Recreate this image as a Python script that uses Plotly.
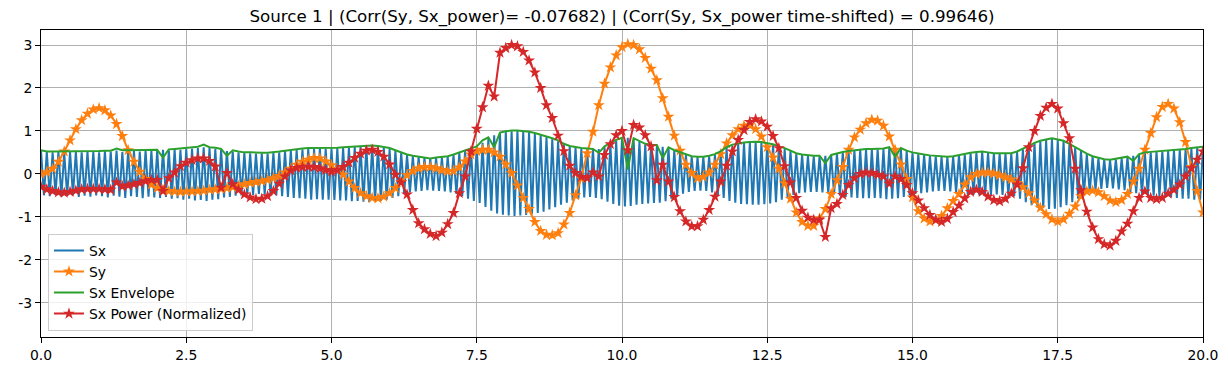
import numpy as np
import plotly.graph_objects as go

# ---------------- data ----------------
t_step = 0.1
t = np.round(np.arange(0, 201) * t_step, 2)  # 0.0 .. 20.0

sy = [
    0.00, 0.04, 0.12, 0.28, 0.52, 0.78, 1.04, 1.25, 1.40, 1.50,
    1.53, 1.48, 1.36, 1.16, 0.88, 0.55, 0.28, 0.05, -0.12, -0.25,
    -0.33, -0.37, -0.40, -0.41, -0.42, -0.41, -0.41, -0.40, -0.39, -0.37,
    -0.36, -0.35, -0.33, -0.31, -0.28, -0.24, -0.21, -0.19, -0.17, -0.14,
    -0.10, -0.05, 0.03, 0.12, 0.21, 0.28, 0.33, 0.37, 0.36, 0.29,
    0.20, 0.10, -0.02, -0.18, -0.33, -0.45, -0.52, -0.56, -0.57, -0.53,
    -0.45, -0.33, -0.19, -0.03, 0.07, 0.13, 0.16, 0.16, 0.13, 0.09,
    0.06, 0.07, 0.15, 0.29, 0.45, 0.53, 0.56, 0.56, 0.50, 0.40,
    0.22, 0.02, -0.27, -0.56, -0.82, -1.12, -1.33, -1.42, -1.43, -1.38,
    -1.18, -0.91, -0.50, -0.10, 0.48, 0.98, 1.60, 2.10, 2.48, 2.76,
    2.95, 3.02, 3.00, 2.90, 2.70, 2.45, 2.18, 1.76, 1.33, 0.89,
    0.54, 0.21, 0.02, -0.10, -0.07, 0.03, 0.21, 0.46, 0.71, 0.90,
    1.04, 1.12, 1.13, 1.04, 0.87, 0.62, 0.38, 0.12, -0.22, -0.58,
    -0.90, -1.12, -1.21, -1.21, -1.04, -0.82, -0.47, -0.15, 0.16, 0.56,
    0.85, 1.03, 1.18, 1.26, 1.24, 1.12, 0.87, 0.56, 0.22, -0.12,
    -0.55, -0.87, -1.04, -1.11, -1.08, -0.98, -0.80, -0.63, -0.47, -0.25,
    -0.08, 0.00, 0.03, 0.03, 0.01, -0.03, -0.08, -0.13, -0.21, -0.31,
    -0.45, -0.62, -0.79, -0.94, -1.06, -1.11, -1.06, -0.93, -0.76, -0.52,
    -0.41, -0.39, -0.43, -0.52, -0.62, -0.66, -0.61, -0.47, -0.18, 0.12,
    0.56, 0.95, 1.32, 1.56, 1.63, 1.52, 1.20, 0.74, 0.16, -0.40,
    -0.90,
]

sx_power = [
    -0.30, -0.36, -0.40, -0.43, -0.44, -0.42, -0.39, -0.36, -0.35, -0.35,
    -0.35, -0.36, -0.37, -0.20, -0.29, -0.27, -0.24, -0.21, -0.17, -0.14,
    -0.14, -0.40, -0.10, 0.03, 0.18, 0.26, 0.32, 0.36, 0.36, 0.30,
    0.17, -0.32, 0.02, -0.24, -0.37, -0.48, -0.55, -0.59, -0.58, -0.52,
    -0.40, -0.23, -0.06, 0.08, 0.14, 0.16, 0.17, 0.16, 0.13, 0.09,
    0.05, 0.09, 0.16, 0.26, 0.37, 0.47, 0.54, 0.56, 0.51, 0.40,
    0.22, -0.02, -0.20, -0.48, -0.84, -1.15, -1.29, -1.40, -1.45, -1.37,
    -1.17, -0.91, -0.45, -0.06, 0.52, 1.05, 1.55, 2.05, 1.80, 2.82,
    2.93, 3.00, 2.97, 2.84, 2.64, 2.36, 2.00, 1.60, 1.30, 0.89,
    0.53, 0.19, 0.02, -0.07, -0.10, 0.03, -0.06, 0.44, 0.69, 0.90,
    1.00, 0.55, 1.14, 1.08, 0.90, 0.64, -0.15, 0.21, -0.18, -0.54,
    -0.87, -1.11, -1.22, -1.22, -1.07, -0.84, -0.53, -0.18, 0.19, 0.52,
    0.79, 1.02, 1.21, 1.27, 1.22, 1.10, 0.88, 0.60, 0.18, -0.20,
    -0.56, -0.86, -1.02, -1.07, -1.07, -1.47, -0.80, -0.70, -0.49, -0.26,
    -0.10, 0.00, 0.03, 0.02, -0.02, -0.06, -0.23, -0.06, -0.12, -0.26,
    -0.45, -0.62, -0.80, -0.96, -1.07, -1.12, -1.05, -0.89, -0.74, -0.57,
    -0.42, -0.37, -0.42, -0.53, -0.61, -0.64, -0.58, -0.46, -0.25, 0.13,
    0.62, 1.00, 1.35, 1.54, 1.63, 1.52, 1.18, 0.83, 0.12, -0.38,
    -0.88, -1.25, -1.52, -1.64, -1.67, -1.56, -1.34, -1.16, -0.87, -0.56,
    -0.41, -0.56, -0.59, -0.56, -0.46, -0.37, -0.25, -0.06, 0.13, 0.33,
    0.52,
]

sx_envelope = [
    0.55, 0.52, 0.52, 0.52, 0.52, 0.52, 0.53, 0.53, 0.53, 0.53,
    0.53, 0.54, 0.54, 0.59, 0.55, 0.55, 0.55, 0.55, 0.56, 0.56,
    0.56, 0.38, 0.57, 0.58, 0.59, 0.60, 0.61, 0.63, 0.68, 0.62,
    0.61, 0.58, 0.42, 0.55, 0.52, 0.50, 0.50, 0.49, 0.49, 0.49,
    0.50, 0.52, 0.54, 0.56, 0.58, 0.59, 0.60, 0.60, 0.60, 0.60,
    0.60, 0.61, 0.62, 0.63, 0.64, 0.65, 0.66, 0.66, 0.65, 0.63,
    0.60, 0.55, 0.50, 0.45, 0.42, 0.40, 0.39, 0.36, 0.38, 0.39,
    0.41, 0.45, 0.50, 0.55, 0.60, 0.64, 0.78, 0.85, 0.62, 0.96,
    0.99, 1.01, 1.01, 1.00, 0.98, 0.95, 0.91, 0.88, 0.83, 0.78,
    0.70, 0.65, 0.62, 0.60, 0.59, 0.58, 0.49, 0.64, 0.72, 0.79,
    0.84, 0.10, 0.83, 0.76, 0.70, 0.68, 0.67, 0.37, 0.62, 0.55,
    0.50, 0.45, 0.41, 0.40, 0.40, 0.42, 0.46, 0.53, 0.62, 0.68,
    0.71, 0.73, 0.74, 0.75, 0.74, 0.72, 0.69, 0.64, 0.60, 0.54,
    0.48, 0.45, 0.43, 0.42, 0.42, 0.25, 0.44, 0.48, 0.51, 0.53,
    0.55, 0.57, 0.58, 0.58, 0.58, 0.59, 0.62, 0.40, 0.60, 0.54,
    0.50, 0.47, 0.45, 0.43, 0.42, 0.40, 0.40, 0.41, 0.44, 0.46,
    0.49, 0.51, 0.52, 0.50, 0.48, 0.48, 0.48, 0.48, 0.52, 0.58,
    0.65, 0.72, 0.77, 0.80, 0.83, 0.80, 0.77, 0.70, 0.62, 0.55,
    0.47, 0.41, 0.37, 0.34, 0.33, 0.35, 0.37, 0.40, 0.30, 0.46,
    0.50, 0.51, 0.52, 0.53, 0.54, 0.56, 0.57, 0.58, 0.60, 0.61,
    0.63,
]

# Sx (fast oscillation): crest values at t = 0.0, 0.1, ... 20.0
sx_peaks = [
    0.55, 0.51, 0.50, 0.52, 0.49, 0.51, 0.52, 0.50, 0.52, 0.51,
    0.50, 0.53, 0.52, 0.54, 0.51, 0.53, 0.54, 0.52, 0.55, 0.53,
    0.54, 0.56, 0.55, 0.57, 0.56, 0.58, 0.59, 0.60, 0.62, 0.60,
    0.58, 0.56, 0.53, 0.52, 0.50, 0.49, 0.48, 0.47, 0.48, 0.47,
    0.49, 0.50, 0.53, 0.54, 0.56, 0.57, 0.59, 0.58, 0.60, 0.59,
    0.59, 0.60, 0.61, 0.62, 0.63, 0.64, 0.64, 0.65, 0.63, 0.62,
    0.58, 0.54, 0.49, 0.44, 0.41, 0.39, 0.37, 0.36, 0.37, 0.38,
    0.40, 0.44, 0.49, 0.54, 0.59, 0.63, 0.72, 0.82, 0.90, 0.95,
    0.98, 0.99, 1.00, 0.98, 0.97, 0.93, 0.90, 0.86, 0.81, 0.76,
    0.69, 0.64, 0.61, 0.58, 0.58, 0.57, 0.58, 0.62, 0.70, 0.77,
    0.82, 0.84, 0.80, 0.75, 0.69, 0.67, 0.65, 0.63, 0.60, 0.54,
    0.49, 0.44, 0.40, 0.39, 0.39, 0.41, 0.45, 0.52, 0.60, 0.66,
    0.70, 0.72, 0.73, 0.74, 0.73, 0.71, 0.68, 0.63, 0.58, 0.53,
    0.47, 0.44, 0.42, 0.41, 0.41, 0.42, 0.43, 0.47, 0.50, 0.52,
    0.54, 0.56, 0.57, 0.57, 0.57, 0.58, 0.60, 0.60, 0.58, 0.53,
    0.49, 0.46, 0.44, 0.42, 0.41, 0.39, 0.39, 0.40, 0.43, 0.45,
    0.48, 0.50, 0.51, 0.49, 0.47, 0.47, 0.47, 0.47, 0.51, 0.57,
    0.64, 0.71, 0.76, 0.79, 0.82, 0.79, 0.76, 0.69, 0.61, 0.54,
    0.46, 0.40, 0.36, 0.33, 0.32, 0.34, 0.36, 0.39, 0.42, 0.45,
    0.49, 0.50, 0.51, 0.52, 0.53, 0.55, 0.56, 0.57, 0.59, 0.60,
    0.62,
]

# Sx trough values at t = 0.05, 0.15, ... 19.95
sx_troughs = [
    -0.50, -0.52, -0.49, -0.53, -0.51, -0.50, -0.54, -0.51, -0.53, -0.50,
    -0.52, -0.55, -0.51, -0.53, -0.56, -0.52, -0.54, -0.57, -0.53, -0.55,
    -0.56, -0.54, -0.58, -0.57, -0.60, -0.58, -0.62, -0.61, -0.63, -0.60,
    -0.59, -0.55, -0.54, -0.51, -0.50, -0.48, -0.49, -0.47, -0.48, -0.49,
    -0.50, -0.52, -0.54, -0.56, -0.57, -0.58, -0.60, -0.59, -0.60, -0.60,
    -0.61, -0.62, -0.62, -0.64, -0.63, -0.65, -0.66, -0.64, -0.63, -0.60,
    -0.56, -0.52, -0.47, -0.43, -0.41, -0.40, -0.38, -0.39, -0.40, -0.41,
    -0.43, -0.47, -0.52, -0.58, -0.63, -0.68, -0.77, -0.86, -0.92, -0.95,
    -0.97, -0.98, -0.97, -0.96, -0.94, -0.91, -0.88, -0.83, -0.78, -0.72,
    -0.67, -0.62, -0.58, -0.55, -0.54, -0.56, -0.59, -0.65, -0.70, -0.74,
    -0.76, -0.75, -0.72, -0.70, -0.69, -0.68, -0.67, -0.64, -0.58, -0.52,
    -0.46, -0.42, -0.40, -0.39, -0.40, -0.43, -0.49, -0.56, -0.63, -0.67,
    -0.70, -0.71, -0.72, -0.72, -0.71, -0.69, -0.66, -0.60, -0.55, -0.49,
    -0.45, -0.43, -0.42, -0.42, -0.43, -0.45, -0.48, -0.51, -0.54, -0.55,
    -0.56, -0.57, -0.57, -0.56, -0.57, -0.59, -0.58, -0.57, -0.54, -0.50,
    -0.47, -0.45, -0.43, -0.41, -0.40, -0.40, -0.41, -0.43, -0.45, -0.47,
    -0.49, -0.50, -0.50, -0.49, -0.48, -0.49, -0.50, -0.52, -0.58, -0.66,
    -0.73, -0.78, -0.80, -0.82, -0.81, -0.78, -0.73, -0.66, -0.58, -0.50,
    -0.43, -0.38, -0.35, -0.33, -0.34, -0.36, -0.38, -0.42, -0.45, -0.48,
    -0.50, -0.51, -0.52, -0.54, -0.55, -0.56, -0.58, -0.58, -0.60, -0.61,
]

x_ticks = [0.0, 2.5, 5.0, 7.5, 10.0, 12.5, 15.0, 17.5, 20.0]
y_ticks = [-3, -2, -1, 0, 1, 2, 3]
title_text = ("Source 1 | (Corr(Sy, Sx_power)= -0.07682) | "
              "(Corr(Sy, Sx_power time-shifted) = 0.99646)")

# interleave crests and troughs of Sx
sx_t, sx_v = [], []
for i in range(len(sx_peaks)):
    sx_t.append(t[i]); sx_v.append(sx_peaks[i])
    if i < len(sx_troughs):
        sx_t.append(round(t[i] + t_step / 2, 3)); sx_v.append(sx_troughs[i])

# ---------------- figure ----------------
FONT = "DejaVu Sans"
LW = 2.0
fig = go.Figure()
fig.add_trace(go.Scatter(x=sx_t, y=sx_v, mode="lines", name="Sx",
                         line=dict(color="#1f77b4", width=LW)))
fig.add_trace(go.Scatter(x=t, y=sy, mode="lines+markers", name="Sy",
                         line=dict(color="#ff7f0e", width=LW),
                         marker=dict(symbol="star", size=9, color="#ff7f0e")))
fig.add_trace(go.Scatter(x=t, y=sx_envelope, mode="lines", name="Sx Envelope",
                         line=dict(color="#2ca02c", width=LW)))
fig.add_trace(go.Scatter(x=t, y=sx_power, mode="lines+markers",
                         name="Sx Power (Normalized)",
                         line=dict(color="#d62728", width=LW),
                         marker=dict(symbol="star", size=9, color="#d62728")))

axis_common = dict(showline=True, linecolor="black", linewidth=1, mirror=True,
                   ticks="outside", ticklen=5, tickwidth=1, tickcolor="black",
                   showgrid=True, gridcolor="#b0b0b0", gridwidth=0.8,
                   zeroline=False, automargin=False,
                   tickfont=dict(family=FONT, size=13.9, color="black"))

fig.update_layout(
    width=1228, height=372,
    margin=dict(l=41, r=25, t=30, b=35),
    paper_bgcolor="white", plot_bgcolor="white",
    font=dict(family=FONT, size=13.9, color="black"),
    title=dict(text=title_text, x=0.5, xref="paper", xanchor="center",
               y=1 - 16 / 372, yref="container", yanchor="middle",
               font=dict(family=FONT, size=16.7, color="black")),
    xaxis=dict(range=[0, 20], tickvals=x_ticks,
               ticktext=[f"{v:.1f}" for v in x_ticks], **axis_common),
    yaxis=dict(range=[-3.8, 3.35], tickvals=y_ticks,
               ticktext=[str(v) for v in y_ticks], **axis_common),
    legend=dict(x=0.006, y=0.02, xanchor="left", yanchor="bottom",
                bgcolor="rgba(255,255,255,0.8)", bordercolor="#cccccc",
                borderwidth=1, font=dict(family=FONT, size=13.9),
                tracegroupgap=0, itemwidth=30),
    showlegend=True,
)

fig.write_html("out.html",
               config={"displayModeBar": False},
               post_script="document.body.style.margin='0';document.body.style.overflow='hidden';")
